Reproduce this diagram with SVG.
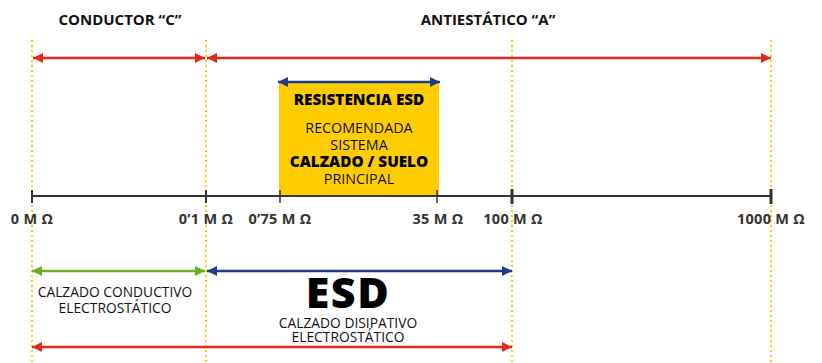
<svg xmlns="http://www.w3.org/2000/svg" width="822" height="363" viewBox="0 0 822 363">
<defs>
<style>
text{font-family:"Open Sans","Noto Sans","Liberation Sans",sans-serif;text-anchor:middle}
.t{font-size:15px;font-weight:700;fill:#111}
.ax{font-size:14.5px;font-weight:700;fill:#333;letter-spacing:0.3px}
.bx{font-size:14.3px;font-weight:400;fill:#111}
.bb{font-size:15.3px;font-weight:800;fill:#000}
.lb{font-size:13.8px;font-weight:400;fill:#111}
.guide{stroke:#ffcc00;stroke-width:2;stroke-dasharray:2 3;fill:none}
.red{stroke:#e0281e;stroke-width:2.5;fill:none}
.blue{stroke:#1f3b8c;stroke-width:2.5;fill:none}
.green{stroke:#6ab023;stroke-width:2.5;fill:none}
</style>
<marker id="mr" viewBox="0 0 10 10" refX="10" refY="5" markerWidth="4.2" markerHeight="4" markerUnits="strokeWidth" orient="auto-start-reverse"><path d="M0,0L10,5L0,10z" fill="#e0281e"/></marker>
<marker id="mb" viewBox="0 0 10 10" refX="10" refY="5" markerWidth="4.2" markerHeight="4" markerUnits="strokeWidth" orient="auto-start-reverse"><path d="M0,0L10,5L0,10z" fill="#1f3b8c"/></marker>
<marker id="mg" viewBox="0 0 10 10" refX="10" refY="5" markerWidth="4.2" markerHeight="4" markerUnits="strokeWidth" orient="auto-start-reverse"><path d="M0,0L10,5L0,10z" fill="#6ab023"/></marker>
</defs>
<rect width="822" height="363" fill="#fff"/>
<g id="guides">
<line class="guide" x1="32" y1="40" x2="32" y2="363"/>
<line class="guide" x1="206" y1="40" x2="206" y2="363"/>
<line class="guide" x1="512" y1="40" x2="512" y2="363"/>
<line class="guide" x1="771" y1="40" x2="771" y2="363"/>
</g>
<g id="box">
<rect x="279" y="83" width="160" height="112" fill="#ffcc00"/>
<text class="bb" x="359" y="105">RESISTENCIA ESD</text>
<text class="bx" x="359" y="133">RECOMENDADA</text>
<text class="bx" x="359" y="150">SISTEMA</text>
<text class="bb" x="359" y="167">CALZADO / SUELO</text>
<text class="bx" x="359" y="184">PRINCIPAL</text>
</g>
<g id="titles">
<text class="t" x="120" y="25">CONDUCTOR “C”</text>
<text class="t" x="488" y="25">ANTIESTÁTICO “A”</text>
</g>
<g id="axis">
<line x1="32" y1="196" x2="771" y2="196" stroke="#333" stroke-width="2"/>
<g stroke="#333">
<line x1="32" y1="190" x2="32" y2="203" stroke-width="2"/>
<line x1="206" y1="190" x2="206" y2="203" stroke-width="2"/>
<line x1="280" y1="190" x2="280" y2="203" stroke-width="1.5"/>
<line x1="437" y1="190" x2="437" y2="203" stroke-width="1.5"/>
<line x1="512" y1="189" x2="512" y2="204" stroke-width="3"/>
<line x1="771" y1="189" x2="771" y2="204" stroke-width="3"/>
</g>
<text class="ax" x="32" y="224">0 M Ω</text>
<text class="ax" x="206" y="224">0’1 M Ω</text>
<text class="ax" x="280" y="224">0’75 M Ω</text>
<text class="ax" x="438" y="224">35 M Ω</text>
<text class="ax" x="513" y="224">100 M Ω</text>
<text class="ax" x="771" y="224">1000 M Ω</text>
</g>
<g id="connectors">
<line class="red" x1="33" y1="58" x2="205" y2="58" marker-start="url(#mr)" marker-end="url(#mr)"/>
<line class="red" x1="207" y1="58" x2="771" y2="58" marker-start="url(#mr)" marker-end="url(#mr)"/>
<line class="blue" x1="278" y1="82" x2="440" y2="82" marker-start="url(#mb)" marker-end="url(#mb)"/>
<line class="green" x1="32" y1="271" x2="205" y2="271" marker-start="url(#mg)" marker-end="url(#mg)"/>
<line class="blue" x1="207" y1="271" x2="512" y2="271" marker-start="url(#mb)" marker-end="url(#mb)"/>
<line class="red" x1="32" y1="347" x2="512" y2="347" marker-start="url(#mr)" marker-end="url(#mr)"/>
</g>
<g id="labels">
<text class="lb" x="115" y="297">CALZADO CONDUCTIVO</text>
<text class="lb" x="115" y="313">ELECTROSTÁTICO</text>
<text x="348" y="308" style="font-size:43px;font-weight:800;fill:#000;letter-spacing:1.5px">ESD</text>
<text class="lb" x="348" y="328">CALZADO DISIPATIVO</text>
<text class="lb" x="348" y="342">ELECTROSTÁTICO</text>
</g>
</svg>
